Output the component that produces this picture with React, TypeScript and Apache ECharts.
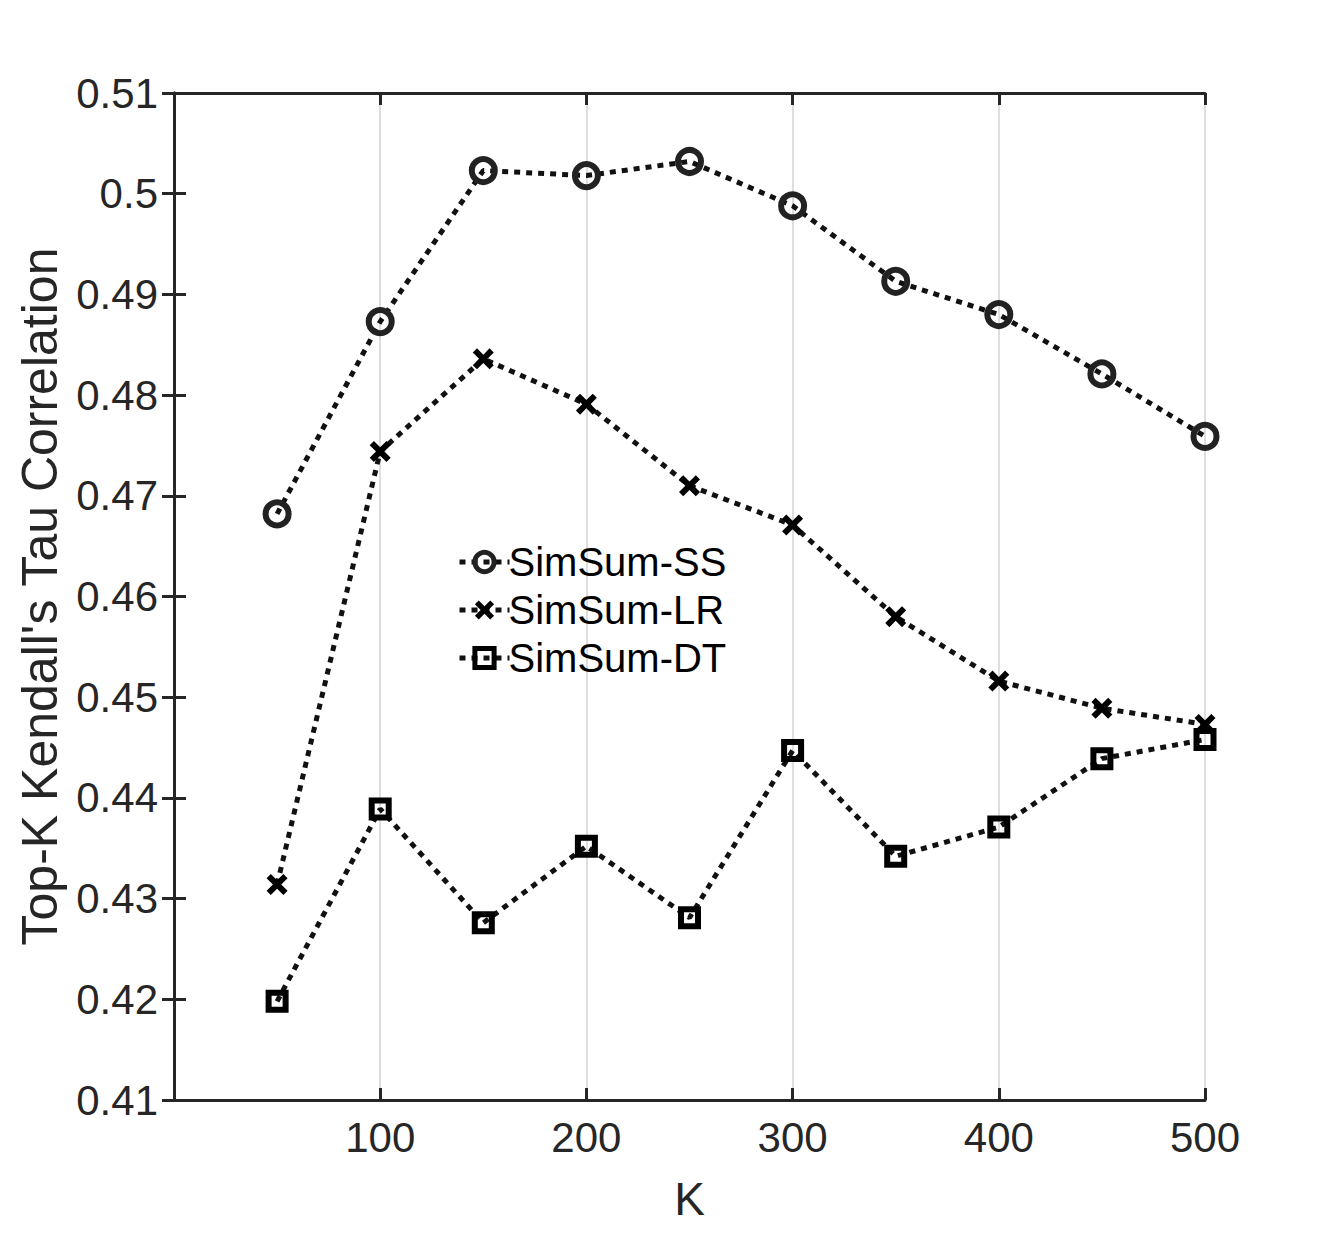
import React, { useEffect, useRef } from "react";
import * as echarts from "echarts";

const kValues = [50, 100, 150, 200, 250, 300, 350, 400, 450, 500];
const ssValues = [0.4682, 0.4873, 0.5023, 0.5018, 0.5032, 0.4988, 0.4913, 0.488, 0.4821, 0.4759];
const lrValues = [0.4314, 0.4744, 0.4836, 0.4791, 0.471, 0.4671, 0.458, 0.4516, 0.4489, 0.4473];
const dtValues = [0.4198, 0.4389, 0.4276, 0.4352, 0.4281, 0.4447, 0.4342, 0.4371, 0.4439, 0.4458];
const seriesNames = ["SimSum-SS", "SimSum-LR", "SimSum-DT"];

const FONT = "'Liberation Sans', Arial, Helvetica, sans-serif";
const TXT = "#262626";
const AX = "#262626";

const crossPath =
  "path://M0,2 L2,0 L5,3 L8,0 L10,2 L7,5 L10,8 L8,10 L5,7 L2,10 L0,8 L3,5 Z";

export default function App() {
  const ref = useRef<HTMLDivElement>(null);
  useEffect(() => {
    document.body.style.margin = "0";
    const chart = echarts.init(ref.current!, null, { renderer: "svg" });
    const pair = (vals: number[]) => kValues.map((k, i) => [k, vals[i]]);
    const line = { color: "#111", width: 5, type: [6, 6] as any, cap: "butt" as any };
    chart.setOption({
      animation: false,
      backgroundColor: "#fff",
      grid: { left: 174, top: 93, right: 126, bottom: 136, containLabel: false },
      legend: {
        orient: "vertical",
        left: 452,
        top: 537,
        itemGap: 8,
        itemWidth: 50,
        itemHeight: 24,
        data: [
          { name: seriesNames[0], itemStyle: { borderWidth: 5, borderColor: "#222", color: "transparent" } },
          { name: seriesNames[1] },
          { name: seriesNames[2], itemStyle: { borderWidth: 5, borderColor: "#000", color: "transparent" } },
        ],
        lineStyle: { width: 5 },
        textStyle: { fontFamily: FONT, fontSize: 40, color: "#000", padding: [0, 0, 0, -6] },
      },
      xAxis: [
        {
          type: "value",
          min: 0,
          max: 500,
          interval: 100,
          name: "K",
          nameLocation: "middle",
          nameGap: 76,
          nameTextStyle: { fontFamily: FONT, fontSize: 46, color: TXT },
          axisLine: { show: true, lineStyle: { color: AX, width: 3 } },
          axisTick: { show: true, inside: true, length: 12, lineStyle: { color: AX, width: 3 } },
          axisLabel: {
            fontFamily: FONT,
            fontSize: 42,
            color: TXT,
            margin: 16,
            formatter: (v: number) => (v === 0 ? "" : String(v)),
          },
          splitLine: { show: true, lineStyle: { color: "#dedede", width: 2 } },
        },
        {
          type: "value",
          position: "top",
          min: 0,
          max: 500,
          interval: 100,
          axisLine: { show: true, lineStyle: { color: AX, width: 3 } },
          axisTick: { show: true, inside: true, length: 12, lineStyle: { color: AX, width: 3 } },
          axisLabel: { show: false },
          splitLine: { show: false },
        },
      ],
      yAxis: [
        {
          type: "value",
          min: 0.41,
          max: 0.51,
          interval: 0.01,
          name: "Top-K Kendall's Tau Correlation",
          nameLocation: "middle",
          nameGap: 106,
          nameTextStyle: { fontFamily: FONT, fontSize: 50, color: TXT },
          axisLine: { show: true, lineStyle: { color: AX, width: 3 } },
          axisTick: { show: true, inside: true, length: 12, lineStyle: { color: AX, width: 3 } },
          axisLabel: {
            fontFamily: FONT,
            fontSize: 42,
            color: TXT,
            margin: 16,
            formatter: (v: number) => {
              const s = v.toFixed(2);
              return s === "0.50" ? "0.5" : s;
            },
          },
          splitLine: { show: false },
        },
        {
          type: "value",
          position: "right",
          min: 0.41,
          max: 0.51,
          interval: 0.01,
          axisLine: { show: true, lineStyle: { color: AX, width: 3 } },
          axisTick: { show: true, inside: true, length: 12, lineStyle: { color: AX, width: 3 } },
          axisLabel: { show: false },
          splitLine: { show: false },
        },
      ],
      series: [
        {
          name: seriesNames[0],
          type: "line",
          data: pair(ssValues),
          symbol: "circle",
          symbolSize: 23,
          lineStyle: line,
          itemStyle: { color: "transparent", borderColor: "#222", borderWidth: 6 },
          z: 3,
        },
        {
          name: seriesNames[1],
          type: "line",
          data: pair(lrValues),
          symbol: crossPath,
          symbolSize: 21,
          lineStyle: line,
          itemStyle: { color: "#000", borderWidth: 0 },
          z: 3,
        },
        {
          name: seriesNames[2],
          type: "line",
          data: pair(dtValues),
          symbol: "rect",
          symbolSize: 17,
          lineStyle: line,
          itemStyle: { color: "transparent", borderColor: "#000", borderWidth: 6 },
          z: 3,
        },
      ],
    });
    return () => chart.dispose();
  }, []);
  return <div ref={ref} style={{ width: 1331, height: 1236 }} />;
}
